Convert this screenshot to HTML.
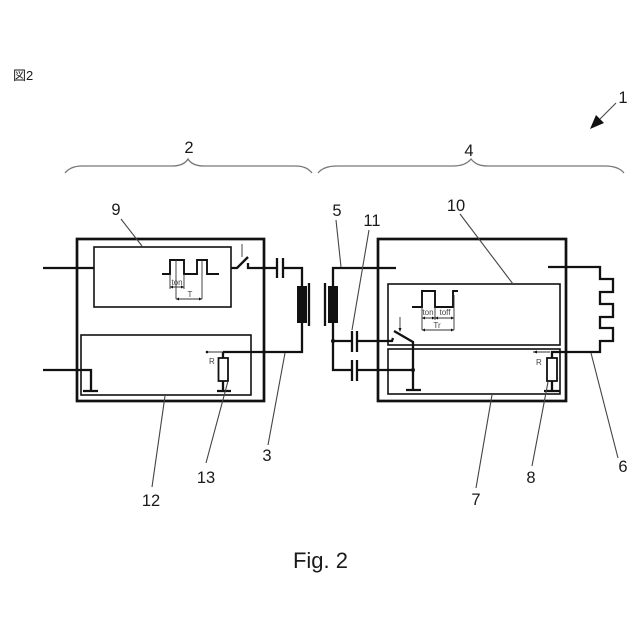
<!DOCTYPE html>
<html><head><meta charset="utf-8"><style>html,body{margin:0;padding:0;background:#fff}svg{display:block}text{font-family:"Liberation Sans","Noto Sans CJK JP",sans-serif;fill:#1a1a1a}.n{font-size:16.5px;text-anchor:middle}.s{font-size:8px;text-anchor:middle;fill:#444}.t{stroke:#333;stroke-width:.9;fill:none}.l{stroke:#444;stroke-width:1.1;fill:none}.w{stroke:#111;stroke-width:2.3;fill:none}.b{stroke:#111;stroke-width:1.6;fill:none}.o{stroke:#111;stroke-width:2.7;fill:none}</style></head><body>
<svg width="640" height="640" viewBox="0 0 640 640" xmlns="http://www.w3.org/2000/svg">
<rect width="640" height="640" fill="#fff"/>
<text x="13" y="80" style="font-size:13px">図2</text>
<text class="n" x="623" y="103">1</text>
<path d="M616 103L600 119" class="l"/><path d="M590 129L596 115L604 123Z" fill="#111"/>
<text class="n" x="189" y="153">2</text>
<text class="n" x="469" y="156">4</text>
<path d="M65 173C69 168 75 166 82 166H172C180 166 185 164 188 159C191 164 196 166 204 166H295C303 166 308 168 312 173" fill="none" stroke="#777" stroke-width="1.3"/>
<path d="M318 173C322 168 329 166 337 166H453C461 166 467 164 471 159C475 164 480 166 488 166H605C613 166 620 168 624 173" fill="none" stroke="#777" stroke-width="1.3"/>

<rect class="o" x="77" y="239" width="187" height="162"/>
<rect class="b" x="94" y="247" width="137" height="60"/>
<rect class="b" x="81" y="335" width="170" height="60"/>
<path class="w" d="M43 268H94M43 370H91V391M83 391H98"/>
<path class="w" d="M162 274H170V260H184V274H197V260H207V274H219" style="stroke-width:1.9"/>
<path class="t" d="M170 274V289M184 274V289M176 260V299M202 260V299M170 287H184M176 299H202"/>
<path d="M170 287l3-1.5v3zM184 287l-3-1.5v3zM176 299l3-1.5v3zM202 299l-3-1.5v3z" fill="#111"/>
<text class="s" x="177" y="285">ton</text><text class="s" x="190" y="297">T</text>
<path class="w" d="M231 268H237L248 257M248 263V268H277M283 268H302V352H223M223 352V358M223 381V391M217 391H231"/>
<path class="t" d="M242 244V257M223 352H207"/>
<circle cx="207" cy="352" r="1.3" fill="#111"/>
<path class="w" d="M277 258V278M283 258V278M309 283V326"/>
<rect x="297" y="286" width="10" height="37" fill="#111"/>
<rect x="218.500" y="358" width="9.500" height="23" fill="#fff" stroke="#111" stroke-width="1.800"/>
<text x="209" y="364" style="font-size:8px;fill:#444">R</text>

<rect class="o" x="378" y="239" width="188" height="162"/>
<rect class="b" x="388" y="284" width="172" height="61"/>
<rect class="b" x="388" y="349" width="172" height="45"/>
<rect x="328" y="286" width="10" height="37" fill="#111"/>
<path class="w" d="M325 283V326M396 268H333V286M333 323V370H352M333 341H352M357 341H392L393 338M357 370H413M352 331V352M357 331V352M352 360V381M357 360V381M394 331L413 342V390M406 390H421"/>
<circle cx="333" cy="341" r="2" fill="#111"/><circle cx="413" cy="370" r="2" fill="#111"/>
<path class="t" d="M400 317V330M533 352H550"/>
<path d="M400 332l-1.500-4h3zM533 352l4-1.500v3z" fill="#111"/>
<path class="w" d="M412 307H422V291H435V307H453V291H458" style="stroke-width:1.900"/>
<path class="t" d="M422 307V330M435 307V320M454 295V330M422 318H454M422 330H454"/>
<path d="M422 318l3-1.500v3zM435 318l-3-1.500v3zM435 318l3-1.500v3zM454 318l-3-1.500v3zM422 330l3-1.500v3zM454 330l-3-1.500v3z" fill="#111"/>
<text class="s" x="428" y="315">ton</text><text class="s" x="445" y="315">toff</text><text class="s" x="437" y="328">Tr</text>
<path class="w" d="M548 267H600V279H613V292H600V304H613V317H600V328H613V341H600V352H552V358M552 381V391M544 391H560"/>
<rect x="547" y="358" width="10" height="23" fill="#fff" stroke="#111" stroke-width="1.800"/>
<text x="536" y="365" style="font-size:8px;fill:#444">R</text>

<path class="l" d="M121 219L142 246M165 396L152 487M228 381L206 463M285 353L268 445M336 220L341 267M369 230L352 330M460 214L513 284M492 395L476 488M548 382L532 466M591 353L618 458"/>
<text class="n" x="116" y="215">9</text>
<text class="n" x="337" y="216">5</text>
<text class="n" x="372" y="226">11</text>
<text class="n" x="456" y="211">10</text>
<text class="n" x="151" y="506">12</text>
<text class="n" x="206" y="483">13</text>
<text class="n" x="267" y="461">3</text>
<text class="n" x="476" y="505">7</text>
<text class="n" x="531" y="483">8</text>
<text class="n" x="623" y="472">6</text>
<text x="320.500" y="568" text-anchor="middle" style="font-size:22px">Fig. 2</text>
</svg></body></html>
